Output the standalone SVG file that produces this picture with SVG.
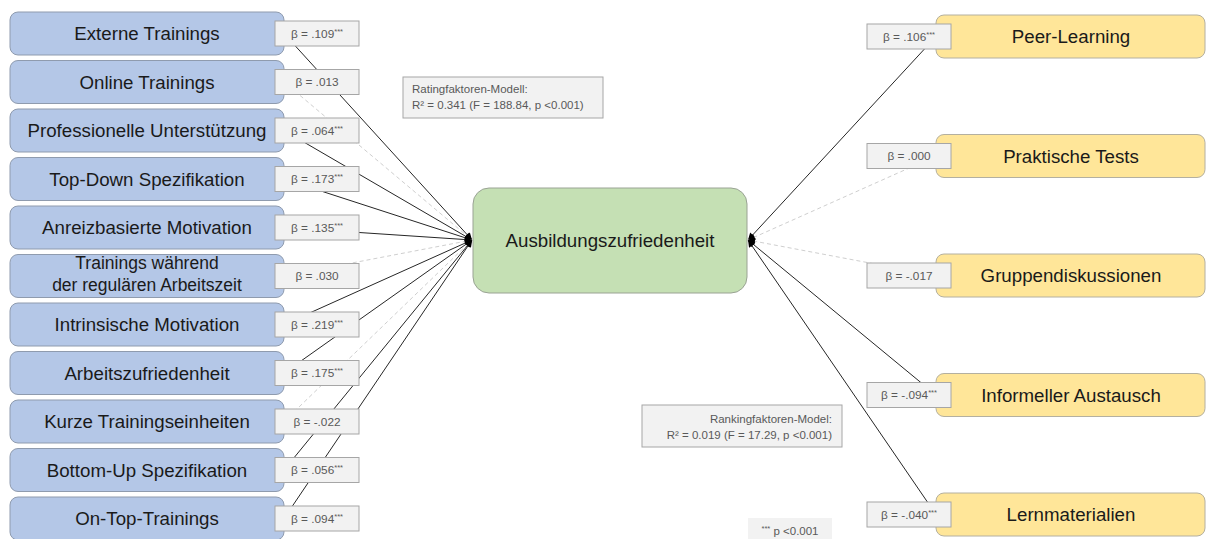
<svg xmlns="http://www.w3.org/2000/svg" width="1206" height="539" viewBox="0 0 1206 539">
<defs>
<marker id="arr" viewBox="0 0 10 10" refX="10" refY="5" markerWidth="8" markerHeight="7" markerUnits="userSpaceOnUse" orient="auto">
<path d="M0,0 L10,5 L0,10 z" fill="#000"/>
</marker>
<style>
.lb{fill:#B4C7E7;stroke:#8F9BAE;stroke-width:1}
.rb{fill:#FFE699;stroke:#B4B0A0;stroke-width:1}
.cb{fill:#C5E0B4;stroke:#9AA394;stroke-width:1}
.nt{font-family:"Liberation Sans",Arial,sans-serif;font-size:18.7px;fill:#1a1a1a;text-anchor:middle}
.bl{fill:#F2F2F2;stroke:#A6A6A6;stroke-width:1}
.bt{font-family:"Liberation Sans",Arial,sans-serif;font-size:11.8px;fill:#595959;text-anchor:middle}
.sup{font-size:7.5px}
.s{stroke:#262626;stroke-width:1;fill:none}
.d{stroke:#CFCFCF;stroke-width:1;stroke-dasharray:4 3;fill:none}
.mt{font-family:"Liberation Sans",Arial,sans-serif;font-size:11.5px;fill:#595959}
</style>
</defs>

<g id="connectors">
<line class="s" x1="284" y1="33.5" x2="472" y2="240" marker-end="url(#arr)"/>
<line class="d" x1="284" y1="82" x2="472" y2="240" marker-end="url(#arr)"/>
<line class="s" x1="284" y1="130.5" x2="472" y2="240" marker-end="url(#arr)"/>
<line class="s" x1="284" y1="179" x2="472" y2="240" marker-end="url(#arr)"/>
<line class="s" x1="284" y1="227.5" x2="472" y2="240" marker-end="url(#arr)"/>
<line class="d" x1="284" y1="276" x2="472" y2="240" marker-end="url(#arr)"/>
<line class="s" x1="284" y1="324.5" x2="472" y2="240" marker-end="url(#arr)"/>
<line class="s" x1="284" y1="373" x2="472" y2="240" marker-end="url(#arr)"/>
<line class="d" x1="284" y1="421.5" x2="472" y2="240" marker-end="url(#arr)"/>
<line class="s" x1="284" y1="470" x2="472" y2="240" marker-end="url(#arr)"/>
<line class="s" x1="284" y1="518.5" x2="472" y2="240" marker-end="url(#arr)"/>
<line class="s" x1="936" y1="36.5" x2="748" y2="240" marker-end="url(#arr)"/>
<line class="d" x1="936" y1="156" x2="748" y2="240" marker-end="url(#arr)"/>
<line class="d" x1="936" y1="275.5" x2="748" y2="240" marker-end="url(#arr)"/>
<line class="s" x1="936" y1="395" x2="748" y2="240" marker-end="url(#arr)"/>
<line class="s" x1="936" y1="514.5" x2="748" y2="240" marker-end="url(#arr)"/>
</g>

<g id="n-externe"><rect class="lb" x="10" y="12" width="274" height="43" rx="8"/><text class="nt" x="147" y="40">Externe Trainings</text></g>
<g id="n-online"><rect class="lb" x="10" y="60.5" width="274" height="43" rx="8"/><text class="nt" x="147" y="88.5">Online Trainings</text></g>
<g id="n-prof"><rect class="lb" x="10" y="109" width="274" height="43" rx="8"/><text class="nt" x="147" y="137">Professionelle Unterstützung</text></g>
<g id="n-topdown"><rect class="lb" x="10" y="157.5" width="274" height="43" rx="8"/><text class="nt" x="147" y="185.5">Top-Down Spezifikation</text></g>
<g id="n-anreiz"><rect class="lb" x="10" y="206" width="274" height="43" rx="8"/><text class="nt" x="147" y="234">Anreizbasierte Motivation</text></g>
<g id="n-arbeitszeit"><rect class="lb" x="10" y="254.5" width="274" height="43" rx="8"/><text class="nt" x="147" y="269" style="font-size:17.5px">Trainings während</text><text class="nt" x="147" y="290.5" style="font-size:17.5px">der regulären Arbeitszeit</text></g>
<g id="n-intrinsisch"><rect class="lb" x="10" y="303" width="274" height="43" rx="8"/><text class="nt" x="147" y="331">Intrinsische Motivation</text></g>
<g id="n-arbeitszufr"><rect class="lb" x="10" y="351.5" width="274" height="43" rx="8"/><text class="nt" x="147" y="379.5">Arbeitszufriedenheit</text></g>
<g id="n-kurze"><rect class="lb" x="10" y="400" width="274" height="43" rx="8"/><text class="nt" x="147" y="428">Kurze Trainingseinheiten</text></g>
<g id="n-bottomup"><rect class="lb" x="10" y="448.5" width="274" height="43" rx="8"/><text class="nt" x="147" y="476.5">Bottom-Up Spezifikation</text></g>
<g id="n-ontop"><rect class="lb" x="10" y="497" width="274" height="43" rx="8"/><text class="nt" x="147" y="525">On-Top-Trainings</text></g>

<g id="n-center"><rect class="cb" x="473" y="188" width="274" height="105" rx="16"/><text class="nt" x="610" y="247">Ausbildungszufriedenheit</text></g>

<g id="n-peer"><rect class="rb" x="936" y="15" width="269" height="43" rx="8"/><text class="nt" x="1071" y="43">Peer-Learning</text></g>
<g id="n-praktisch"><rect class="rb" x="936" y="134.5" width="269" height="43" rx="8"/><text class="nt" x="1071" y="162.5">Praktische Tests</text></g>
<g id="n-gruppe"><rect class="rb" x="936" y="254" width="269" height="43" rx="8"/><text class="nt" x="1071" y="282">Gruppendiskussionen</text></g>
<g id="n-informell"><rect class="rb" x="936" y="373.5" width="269" height="43" rx="8"/><text class="nt" x="1071" y="401.5">Informeller Austausch</text></g>
<g id="n-lern"><rect class="rb" x="936" y="493" width="269" height="43" rx="8"/><text class="nt" x="1071" y="521">Lernmaterialien</text></g>

<g id="labels">
<rect class="bl" x="275" y="21" width="84" height="25"/><text class="bt" x="317" y="37.5">β = .109<tspan class="sup" dy="-4">***</tspan></text>
<rect class="bl" x="275" y="69.5" width="84" height="25"/><text class="bt" x="317" y="86">β = .013</text>
<rect class="bl" x="275" y="118" width="84" height="25"/><text class="bt" x="317" y="134.5">β = .064<tspan class="sup" dy="-4">***</tspan></text>
<rect class="bl" x="275" y="166.5" width="84" height="25"/><text class="bt" x="317" y="183">β = .173<tspan class="sup" dy="-4">***</tspan></text>
<rect class="bl" x="275" y="215" width="84" height="25"/><text class="bt" x="317" y="231.5">β = .135<tspan class="sup" dy="-4">***</tspan></text>
<rect class="bl" x="275" y="263.5" width="84" height="25"/><text class="bt" x="317" y="280">β = .030</text>
<rect class="bl" x="275" y="312" width="84" height="25"/><text class="bt" x="317" y="328.5">β = .219<tspan class="sup" dy="-4">***</tspan></text>
<rect class="bl" x="275" y="360.5" width="84" height="25"/><text class="bt" x="317" y="377">β = .175<tspan class="sup" dy="-4">***</tspan></text>
<rect class="bl" x="275" y="409" width="84" height="25"/><text class="bt" x="317" y="425.5">β = -.022</text>
<rect class="bl" x="275" y="457.5" width="84" height="25"/><text class="bt" x="317" y="474">β = .056<tspan class="sup" dy="-4">***</tspan></text>
<rect class="bl" x="275" y="506" width="84" height="25"/><text class="bt" x="317" y="522.5">β = .094<tspan class="sup" dy="-4">***</tspan></text>

<rect class="bl" x="867" y="24" width="84" height="25"/><text class="bt" x="909" y="40.5">β = .106<tspan class="sup" dy="-4">***</tspan></text>
<rect class="bl" x="867" y="143.5" width="84" height="25"/><text class="bt" x="909" y="160">β = .000</text>
<rect class="bl" x="867" y="263" width="84" height="25"/><text class="bt" x="909" y="279.5">β = -.017</text>
<rect class="bl" x="867" y="382.5" width="84" height="25"/><text class="bt" x="909" y="399">β = -.094<tspan class="sup" dy="-4">***</tspan></text>
<rect class="bl" x="867" y="502" width="84" height="25"/><text class="bt" x="909" y="518.5">β = -.040<tspan class="sup" dy="-4">***</tspan></text>
</g>

<g id="model-rating">
<rect class="bl" x="403" y="77" width="200" height="41"/>
<text class="mt" x="412" y="93">Ratingfaktoren-Modell:</text>
<text class="mt" x="412" y="109">R² = 0.341 (F = 188.84, p &lt;0.001)</text>
</g>
<g id="model-ranking">
<rect class="bl" x="642" y="405" width="200" height="42"/>
<text class="mt" x="832" y="423" text-anchor="end">Rankingfaktoren-Model:</text>
<text class="mt" x="832" y="439" text-anchor="end">R² = 0.019 (F = 17.29, p &lt;0.001)</text>
</g>
<g id="footnote">
<rect x="748" y="518" width="84" height="22" fill="#F2F2F2"/>
<text class="mt" x="790" y="535" text-anchor="middle"><tspan class="sup" dy="-4">***</tspan><tspan dy="4"> p &lt;0.001</tspan></text>
</g>
</svg>
